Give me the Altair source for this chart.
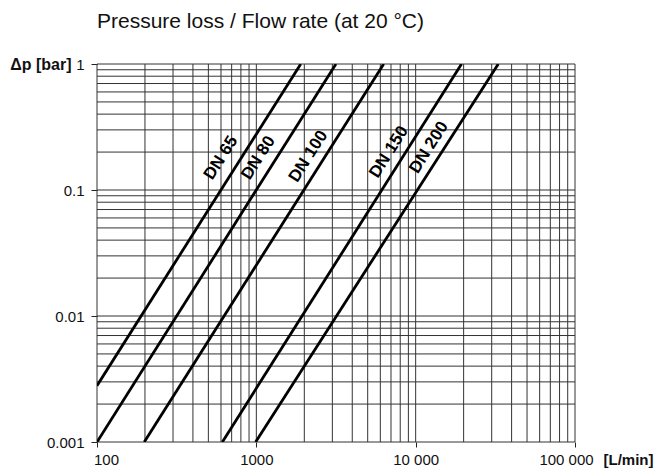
import altair as alt
import pandas as pd

# Line endpoints: flow rate [L/min], pressure loss [bar]
series = ["DN 65", "DN 80", "DN 100", "DN 150", "DN 200"]
q_start = [100, 100, 198, 612, 990]
dp_start = [0.0028, 0.001, 0.001, 0.001, 0.001]
q_end = [1900, 3160, 6300, 19400, 33000]
dp_end = [1, 1, 1, 1, 1]

# Label anchors (data coordinates)
label_q = [600, 1030, 2120, 6800, 12100]
label_dp = [0.18, 0.18, 0.185, 0.2, 0.218]

# Axis ticks
x_ticks = [100, 1000, 10000, 100000]
x_tick_labels = ["100", "1000", "10 000", "100 000"]
y_ticks = [0.001, 0.01, 0.1, 1]
y_tick_labels = ["0.001", "0.01", "0.1", "1"]

# Grid values (log grid, 1..9 per decade)
x_grid = [m * 10 ** e for e in (2, 3, 4) for m in range(1, 10)] + [100000]
y_grid = [m * 10.0 ** e for e in (-3, -2, -1) for m in range(1, 10)] + [1]

FONT = "Liberation Sans"
W, H = 478, 378

lines_df = pd.DataFrame(
    [{"series": s, "order": 0, "q": a, "dp": b} for s, a, b in zip(series, q_start, dp_start)]
    + [{"series": s, "order": 1, "q": a, "dp": b} for s, a, b in zip(series, q_end, dp_end)]
)
labels_df = pd.DataFrame({"series": series, "q": label_q, "dp": label_dp})
xg_df = pd.DataFrame({"q": x_grid})
yg_df = pd.DataFrame({"dp": y_grid})

xscale = alt.Scale(type="log", domain=[100, 100000], nice=False)
yscale = alt.Scale(type="log", domain=[0.001, 1], nice=False)

x_expr = " : ".join(
    f"datum.value == {v} ? '{l}'" for v, l in zip(x_ticks, x_tick_labels)
) + " : ''"
y_expr = " : ".join(
    f"abs(datum.value - {v}) < {v / 100} ? '{l}'" for v, l in zip(y_ticks, y_tick_labels)
) + " : ''"

x_axis = alt.Axis(
    values=x_ticks, labelExpr=x_expr, grid=False, domain=False,
    tickSize=5, tickColor="#222", labelPadding=5, labelFlush=False,
    labelFont=FONT, labelFontSize=15, labelColor="#111",
    labelOffset={
        "condition": [
            {"test": "datum.value == 100", "value": 9},
            {"test": "datum.value == 100000", "value": -9},
        ],
        "value": 0,
    },
    title="[L/min]", titleFont=FONT, titleFontSize=15, titleFontWeight="bold",
    titleColor="#111", titleAlign="left", titleAnchor="start",
    titleX=W + 28, titleY=17, titleBaseline="middle",
)
y_axis = alt.Axis(
    values=y_ticks, labelExpr=y_expr, grid=False, domain=False,
    tickSize=6, tickColor="#222", labelPadding=7,
    labelFont=FONT, labelFontSize=15, labelColor="#111",
    title="Δp [bar]", titleFont=FONT, titleFontSize=16, titleFontWeight="bold",
    titleColor="#111", titleAngle=0, titleAlign="right", titleBaseline="middle",
    titleX=-26, titleY=0,
)

xgrid = alt.Chart(xg_df).mark_rule(color="#333", strokeWidth=1).encode(
    x=alt.X("q:Q", scale=xscale, axis=x_axis)
)
ygrid = alt.Chart(yg_df).mark_rule(color="#333", strokeWidth=1).encode(
    y=alt.Y("dp:Q", scale=yscale, axis=y_axis)
)
lines = alt.Chart(lines_df).mark_line(color="black", strokeWidth=2.8, clip=True).encode(
    x=alt.X("q:Q", scale=xscale),
    y=alt.Y("dp:Q", scale=yscale),
    detail="series:N",
    order="order:Q",
)
labels = alt.Chart(labels_df).mark_text(
    font=FONT, fontSize=17, fontWeight="bold", color="black",
    angle=302.3, align="center", baseline="middle",
).encode(
    x=alt.X("q:Q", scale=xscale),
    y=alt.Y("dp:Q", scale=yscale),
    text="series:N",
)

chart = (
    alt.layer(xgrid, ygrid, lines, labels)
    .properties(
        width=W, height=H,
        autosize="none",
        padding={"left": 89, "top": 56, "right": 81, "bottom": 26},
        title=alt.TitleParams(
            "Pressure loss / Flow rate (at 20 °C)",
            anchor="start", frame="group", font=FONT, fontSize=21,
            fontWeight="normal", color="#111", baseline="alphabetic", offset=7,
        ),
    )
    .configure_view(stroke=None)
)

chart.save("out.html", embed_options={"renderer": "svg", "actions": False})
